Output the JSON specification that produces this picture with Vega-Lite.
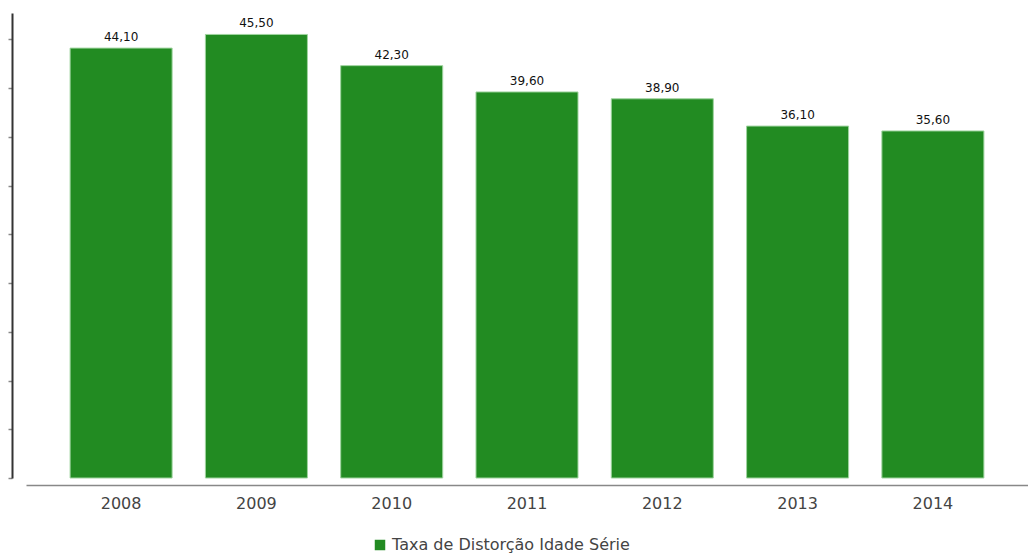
{
  "$schema": "https://vega.github.io/schema/vega-lite/v6.json",
  "width": 1002,
  "height": 465,
  "autosize": {"type": "none"},
  "padding": {"left": 26, "top": 13, "right": 0, "bottom": 80},
  "background": "white",
  "config": {
    "view": {"stroke": null},
    "font": "DejaVu Sans",
    "locale": {"number": {"decimal": ",", "thousands": ".", "grouping": [3], "currency": ["R$", ""]}}
  },
  "data": {
    "values": [
      {"ano": "2008", "taxa": 44.1, "serie": "Taxa de Distorção Idade Série"},
      {"ano": "2009", "taxa": 45.5, "serie": "Taxa de Distorção Idade Série"},
      {"ano": "2010", "taxa": 42.3, "serie": "Taxa de Distorção Idade Série"},
      {"ano": "2011", "taxa": 39.6, "serie": "Taxa de Distorção Idade Série"},
      {"ano": "2012", "taxa": 38.9, "serie": "Taxa de Distorção Idade Série"},
      {"ano": "2013", "taxa": 36.1, "serie": "Taxa de Distorção Idade Série"},
      {"ano": "2014", "taxa": 35.6, "serie": "Taxa de Distorção Idade Série"}
    ]
  },
  "encoding": {
    "x": {
      "field": "ano", "type": "nominal",
      "scale": {"paddingInner": 0.246, "paddingOuter": 0.326},
      "axis": {
        "title": null, "labelAngle": 0, "offset": 7, "domainColor": "#888888", "domainWidth": 1.5,
        "ticks": false, "labelFontSize": 16, "labelColor": "#444444", "labelPadding": 10, "grid": false
      }
    },
    "y": {
      "field": "taxa", "type": "quantitative",
      "scale": {"domain": [0, 47.7], "nice": false},
      "axis": {
        "title": null, "labels": false, "grid": false, "offset": 14,
        "values": [0, 5, 10, 15, 20, 25, 30, 35, 40, 45],
        "domainColor": "#333333", "domainWidth": 2, "tickColor": "#888888", "tickSize": 4, "tickWidth": 1.5
      }
    }
  },
  "layer": [
    {
      "mark": {"type": "bar", "stroke": "#9fd49f", "strokeWidth": 1},
      "encoding": {
        "color": {
          "field": "serie", "type": "nominal",
          "scale": {"range": ["#228B22"]},
          "legend": {
            "title": null, "orient": "none", "legendX": 346, "legendY": 524,
            "symbolType": "square", "symbolSize": 110, "symbolStrokeWidth": 0,
            "labelFontSize": 16, "labelColor": "#444444", "labelFont": "DejaVu Sans", "labelLimit": 0
          }
        }
      }
    },
    {
      "mark": {"type": "text", "baseline": "bottom", "dy": -4, "fontSize": 12, "color": "#111111"},
      "encoding": {
        "text": {"field": "taxa", "type": "quantitative", "format": ".2f"}
      }
    }
  ]
}
